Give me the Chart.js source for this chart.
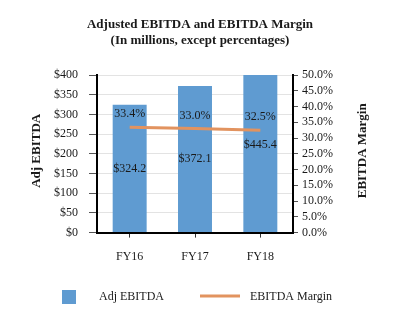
<!DOCTYPE html>
<html>
<head>
<meta charset="utf-8">
<script src="https://cdn.jsdelivr.net/npm/chart.js@4/dist/chart.umd.min.js"></script>
<style>
  html, body { margin: 0; padding: 0; background: #fff; }
  #wrap { width: 400px; height: 333px; }
</style>
</head>
<body>
<div id="wrap"><canvas id="ebitdaChart" width="400" height="333"></canvas></div>
<script>
const years = ['FY16', 'FY17', 'FY18'];
const adjEbitda = [324.2, 372.1, 445.4];
const ebitdaMargin = [33.4, 33.0, 32.5];
const dollarTicks = [0, 50, 100, 150, 200, 250, 300, 350, 400];
const marginTicks = [0, 5, 10, 15, 20, 25, 30, 35, 40, 45, 50];
const titleLines = ['Adjusted EBITDA and EBITDA Margin', '(In millions, except percentages)'];

const serif = "'Liberation Serif', 'Times New Roman', serif";
const barColor = '#5f9bd1';
const lineColor = '#e2935f';

// value labels, titles and legend drawn by hand
const extras = {
  id: 'extras',
  afterDatasetsDraw(chart) {
    const ctx = chart.ctx;
    const x = chart.scales.x;
    const y = chart.scales.y;
    const y2 = chart.scales.y2;
    ctx.save();
    ctx.fillStyle = '#1a1a1a';
    ctx.font = '12px ' + serif;
    ctx.textAlign = 'center';
    ctx.textBaseline = 'middle';
    years.forEach((yr, i) => {
      const cx = x.getPixelForValue(i);
      ctx.fillText('$' + adjEbitda[i].toFixed(1), cx, y.getPixelForValue(adjEbitda[i] / 2));
      ctx.fillText(ebitdaMargin[i].toFixed(1) + '%', cx, y2.getPixelForValue(ebitdaMargin[i]) - 13);
    });
    ctx.restore();
  },
  afterDraw(chart) {
    const ctx = chart.ctx;
    const area = chart.chartArea;
    const midY = (area.top + area.bottom) / 2;
    ctx.save();
    ctx.fillStyle = '#1a1a1a';
    ctx.font = 'bold 13px ' + serif;
    ctx.textAlign = 'center';
    ctx.textBaseline = 'middle';
    ctx.fillText(titleLines[0], 200, 25);
    ctx.fillText(titleLines[1], 200, 40.5);
    [[37, 'Adj EBITDA'], [363, 'EBITDA Margin']].forEach(([tx, label]) => {
      ctx.save();
      ctx.translate(tx, midY - 3);
      ctx.rotate(-Math.PI / 2);
      ctx.fillText(label, 0, 0);
      ctx.restore();
    });

    // legend
    ctx.font = '12px ' + serif;
    ctx.textAlign = 'left';
    ctx.fillStyle = barColor;
    ctx.fillRect(62, 290, 14, 14);
    ctx.fillStyle = '#1a1a1a';
    ctx.fillText('Adj EBITDA', 99, 297);
    ctx.strokeStyle = lineColor;
    ctx.lineWidth = 3;
    ctx.beginPath();
    ctx.moveTo(200, 296);
    ctx.lineTo(240, 296);
    ctx.stroke();
    ctx.fillText('EBITDA Margin', 250, 297);
    ctx.restore();
  }
};

new Chart(document.getElementById('ebitdaChart'), {
  type: 'bar',
  data: {
    labels: years,
    datasets: [
      {
        type: 'line',
        label: 'EBITDA Margin',
        data: ebitdaMargin,
        yAxisID: 'y2',
        borderColor: lineColor,
        borderWidth: 3,
        pointRadius: 0,
        fill: false,
        tension: 0,
        order: 0
      },
      {
        type: 'bar',
        label: 'Adj EBITDA',
        data: adjEbitda,
        yAxisID: 'y',
        backgroundColor: barColor,
        categoryPercentage: 1,
        barPercentage: 0.52,
        order: 1
      }
    ]
  },
  options: {
    responsive: false,
    animation: false,
    layout: { padding: { left: 43, right: 63, top: 75, bottom: 57 } },
    plugins: {
      legend: { display: false },
      tooltip: { enabled: false },
      title: { display: false }
    },
    scales: {
      x: {
        grid: { offset: false, drawOnChartArea: false, tickLength: 5, tickColor: '#333' },
        border: { color: '#000', width: 2 },
        ticks: { color: '#1a1a1a', font: { family: serif, size: 12 }, padding: 12 }
      },
      y: {
        position: 'left',
        min: 0,
        max: 400,
        afterBuildTicks: s => { s.ticks = dollarTicks.map(v => ({ value: v })); },
        grid: { color: '#e3e3e3', tickColor: '#555', tickLength: 8 },
        border: { color: '#000', width: 2 },
        ticks: { color: '#1a1a1a', font: { family: serif, size: 12 }, padding: 11, autoSkip: false, callback: v => '$' + v }
      },
      y2: {
        position: 'right',
        min: 0,
        max: 50,
        afterBuildTicks: s => { s.ticks = marginTicks.map(v => ({ value: v })); },
        grid: { drawOnChartArea: false, tickColor: '#555', tickLength: 5 },
        border: { color: '#000', width: 2 },
        ticks: { color: '#1a1a1a', font: { family: serif, size: 12 }, padding: 4, autoSkip: false, callback: v => v.toFixed(1) + '%' }
      }
    }
  },
  plugins: [extras]
});
</script>
</body>
</html>
